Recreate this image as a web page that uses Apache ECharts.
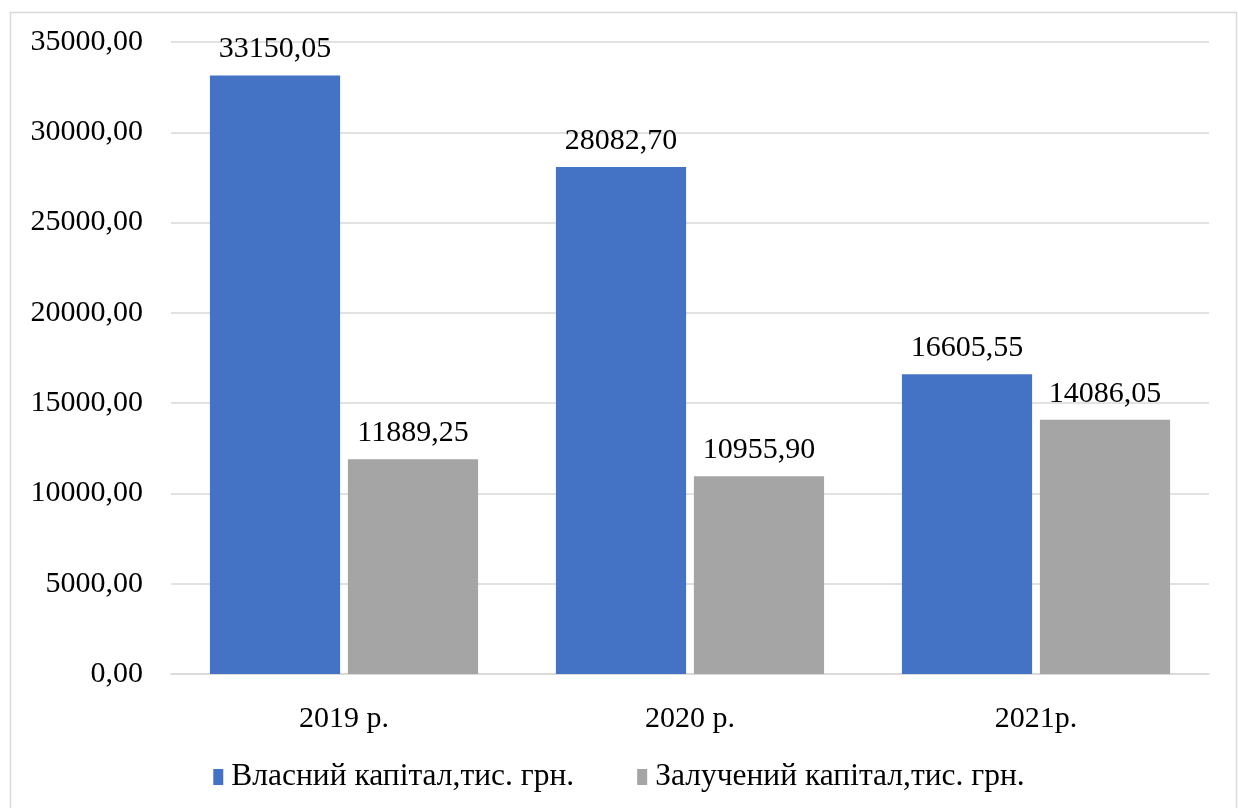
<!DOCTYPE html>
<html>
<head>
<meta charset="utf-8">
<script src="https://cdn.jsdelivr.net/npm/echarts@6/dist/echarts.min.js"></script>
<style>
  html, body { margin: 0; padding: 0; background: #fff; }
  #chart { width: 1238px; height: 808px; }
</style>
</head>
<body>
<div id="chart"></div>
<script>
// Capital structure by year, thousand UAH
const years = ['2019 р.', '2020 р.', '2021р.'];
const ownCapital = [33150.05, 28082.70, 16605.55];
const borrowedCapital = [11889.25, 10955.90, 14086.05];
const seriesNames = ['Власний капітал,тис. грн.', 'Залучений капітал,тис. грн.'];

const FONT = '"Liberation Serif", "Times New Roman", serif';
const FS = 30;
const fmt = v => v.toFixed(2).replace('.', ',');

const chart = echarts.init(document.getElementById('chart'), null, { renderer: 'canvas' });

const labelStyle = {
  show: true,
  position: 'top',
  distance: 11,
  color: '#000',
  fontFamily: FONT,
  fontSize: FS,
  formatter: p => fmt(p.value)
};

chart.setOption({
  animation: false,
  backgroundColor: '#fff',
  graphic: [{
    type: 'rect',
    shape: { x: 10.5, y: 12.5, width: 1226, height: 820 },
    style: { fill: 'none', stroke: '#d9d9d9', lineWidth: 1.5 },
    silent: true
  }],
  grid: { left: 171, right: 29, top: 42, bottom: 134, containLabel: false },
  legend: {
    data: seriesNames,
    top: 756,
    left: 'center',
    itemWidth: 10,
    itemHeight: 16,
    itemGap: 63,
    icon: 'rect',
    textStyle: { fontFamily: FONT, fontSize: 31.5, color: '#000', padding: [0, 0, 0, 3] }
  },
  xAxis: {
    type: 'category',
    data: years,
    axisLine: { show: true, lineStyle: { color: '#d9d9d9', width: 1.5 } },
    axisTick: { show: false },
    axisLabel: { color: '#000', fontFamily: FONT, fontSize: FS, margin: 30 }
  },
  yAxis: {
    type: 'value',
    min: 0,
    max: 35000,
    interval: 5000,
    axisLine: { show: false },
    axisTick: { show: false },
    splitLine: { lineStyle: { color: '#d9d9d9', width: 1.5 } },
    axisLabel: {
      color: '#000', fontFamily: FONT, fontSize: FS, margin: 28,
      padding: [5, 0, 0, 0],
      formatter: v => fmt(v)
    }
  },
  series: [
    {
      name: seriesNames[0],
      type: 'bar',
      data: ownCapital,
      itemStyle: { color: '#4472C4' },
      barGap: '6%',
      barCategoryGap: '22.5%',
      label: labelStyle
    },
    {
      name: seriesNames[1],
      type: 'bar',
      data: borrowedCapital,
      itemStyle: { color: '#A5A5A5' },
      label: labelStyle
    }
  ]
});
</script>
</body>
</html>
